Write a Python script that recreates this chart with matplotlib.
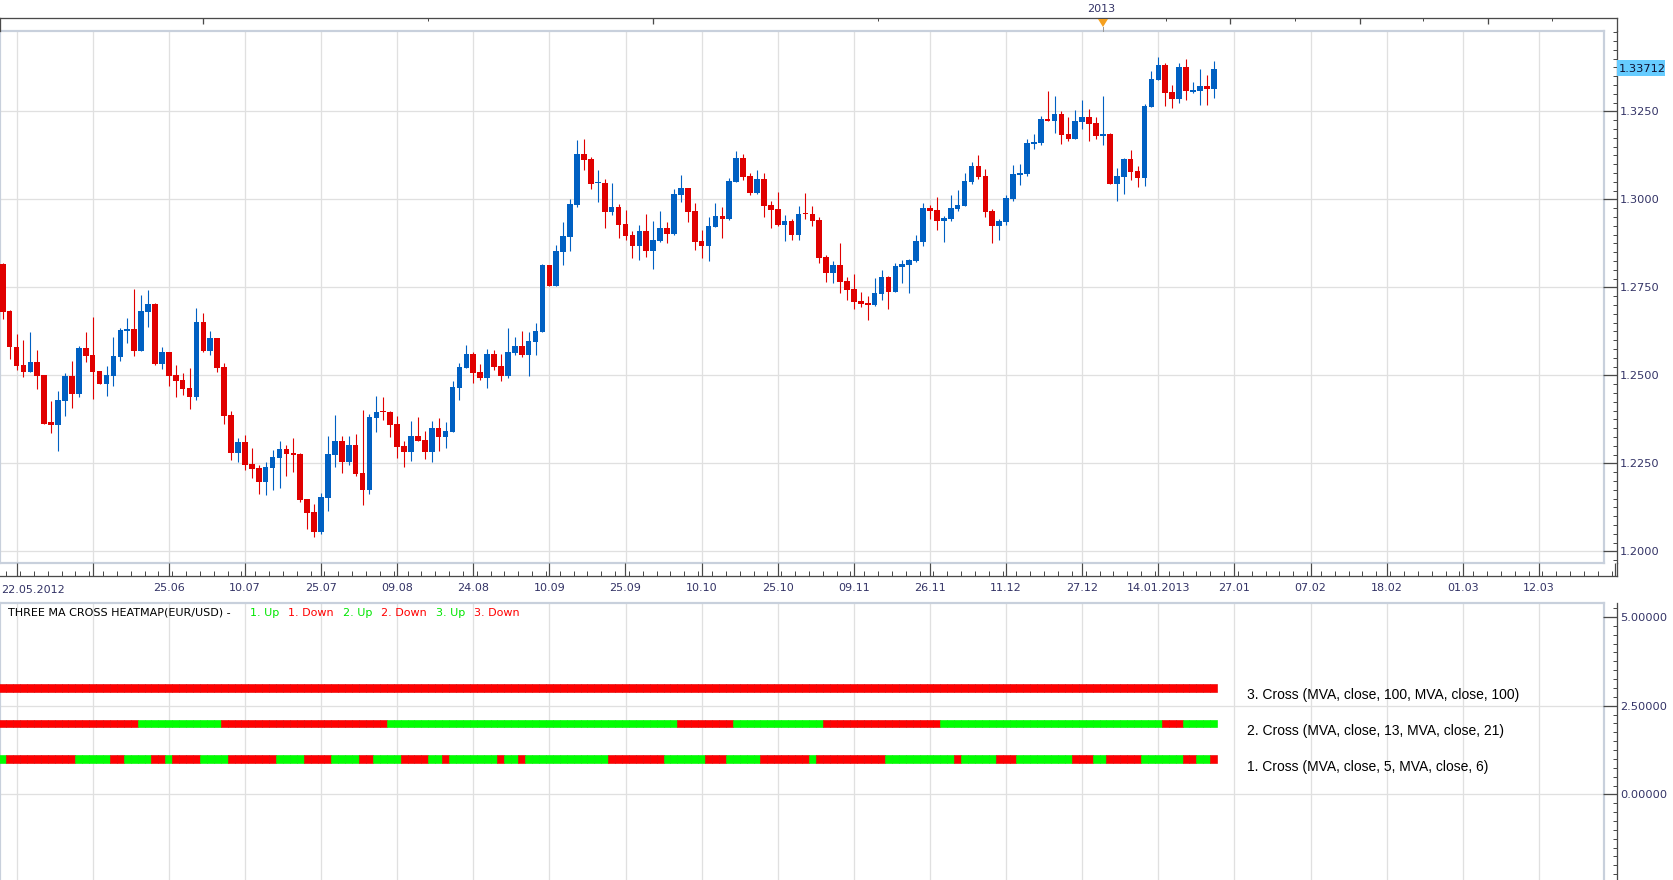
import numpy as np
import matplotlib
matplotlib.use("Agg")
import matplotlib.pyplot as plt
from matplotlib.patches import Rectangle, Polygon
from matplotlib.lines import Line2D
from matplotlib.ticker import FixedLocator, FuncFormatter, NullFormatter

plt.rcParams['font.family'] = ['DejaVu Sans']

W, H = 1674, 880

# ---------------- data (EUR/USD daily, 22.05.2012 - 24.01.2013) ----------------
opens = [1.2816, 1.2683, 1.2580, 1.2529, 1.2510, 1.2538, 1.2501, 1.2366, 1.2360, 1.2428,
         1.2498, 1.2448, 1.2578, 1.2558, 1.2512, 1.2476, 1.2499, 1.2553, 1.2627, 1.2632,
         1.2570, 1.2681, 1.2703, 1.2533, 1.2566, 1.2501, 1.2487, 1.2464, 1.2439, 1.2651,
         1.2570, 1.2606, 1.2524, 1.2387, 1.2280, 1.2310, 1.2248, 1.2237, 1.2197, 1.2237,
         1.2265, 1.2291, 1.2279, 1.2276, 1.2149, 1.2112, 1.2056, 1.2151, 1.2273, 1.2313,
         1.2254, 1.2302, 1.2222, 1.2174, 1.2379, 1.2399, 1.2396, 1.2362, 1.2299, 1.2282,
         1.2328, 1.2316, 1.2282, 1.2350, 1.2325, 1.2339, 1.2464, 1.2521, 1.2560, 1.2509,
         1.2492, 1.2561, 1.2527, 1.2499, 1.2563, 1.2583, 1.2558, 1.2595, 1.2623, 1.2813,
         1.2755, 1.2850, 1.2893, 1.2984, 1.3129, 1.3114, 1.3046, 1.3046, 1.2964, 1.2978,
         1.2930, 1.2899, 1.2867, 1.2910, 1.2853, 1.2881, 1.2918, 1.2901, 1.3012, 1.3032,
         1.2967, 1.2881, 1.2867, 1.2921, 1.2953, 1.2944, 1.3049, 1.3117, 1.3066, 1.3018,
         1.3058, 1.2984, 1.2972, 1.2927, 1.2938, 1.2899, 1.2961, 1.2958, 1.2941, 1.2836,
         1.2791, 1.2813, 1.2768, 1.2745, 1.2711, 1.2705, 1.2700, 1.2731, 1.2779, 1.2737,
         1.2808, 1.2813, 1.2825, 1.2879, 1.2975, 1.2970, 1.2938, 1.2944, 1.2972, 1.2981,
         1.3049, 1.3095, 1.3066, 1.2967, 1.2924, 1.2936, 1.3001, 1.3069, 1.3072, 1.3157,
         1.3160, 1.3228, 1.3223, 1.3242, 1.3186, 1.3171, 1.3220, 1.3234, 1.3217, 1.3180,
         1.3186, 1.3044, 1.3063, 1.3115, 1.3080, 1.3061, 1.3262, 1.3339, 1.3382, 1.3305,
         1.3285, 1.3376, 1.3305, 1.3308, 1.3322, 1.3313]
highs = [1.2820, 1.2686, 1.2617, 1.2600, 1.2623, 1.2572, 1.2501, 1.2427, 1.2455, 1.2507,
         1.2541, 1.2583, 1.2623, 1.2666, 1.2512, 1.2526, 1.2609, 1.2634, 1.2663, 1.2745,
         1.2728, 1.2742, 1.2705, 1.2580, 1.2566, 1.2529, 1.2507, 1.2521, 1.2691, 1.2677,
         1.2626, 1.2606, 1.2535, 1.2399, 1.2322, 1.2330, 1.2293, 1.2245, 1.2254, 1.2288,
         1.2313, 1.2302, 1.2322, 1.2279, 1.2149, 1.2134, 1.2166, 1.2328, 1.2387, 1.2328,
         1.2328, 1.2333, 1.2401, 1.2390, 1.2441, 1.2438, 1.2399, 1.2384, 1.2313, 1.2370,
         1.2381, 1.2342, 1.2370, 1.2379, 1.2367, 1.2484, 1.2535, 1.2586, 1.2566, 1.2532,
         1.2575, 1.2572, 1.2561, 1.2634, 1.2609, 1.2626, 1.2623, 1.2649, 1.2816, 1.2813,
         1.2870, 1.2936, 1.3001, 1.3169, 1.3171, 1.3120, 1.3083, 1.3058, 1.3046, 1.2987,
         1.2970, 1.2910, 1.2927, 1.2958, 1.2938, 1.2967, 1.2935, 1.3029, 1.3069, 1.3032,
         1.2990, 1.2913, 1.2950, 1.2990, 1.2978, 1.3061, 1.3137, 1.3129, 1.3075, 1.3083,
         1.3075, 1.2995, 1.3021, 1.2955, 1.2944, 1.2981, 1.3018, 1.2981, 1.2950, 1.2842,
         1.2825, 1.2876, 1.2779, 1.2788, 1.2737, 1.2725, 1.2776, 1.2799, 1.2782, 1.2819,
         1.2828, 1.2830, 1.2899, 1.2990, 1.2984, 1.3007, 1.2953, 1.3012, 1.3026, 1.3075,
         1.3106, 1.3126, 1.3086, 1.2972, 1.2944, 1.3012, 1.3097, 1.3100, 1.3171, 1.3186,
         1.3237, 1.3308, 1.3294, 1.3251, 1.3234, 1.3254, 1.3282, 1.3257, 1.3234, 1.3294,
         1.3188, 1.3089, 1.3117, 1.3140, 1.3095, 1.3271, 1.3365, 1.3404, 1.3387, 1.3325,
         1.3387, 1.3399, 1.3333, 1.3370, 1.3353, 1.3393]
lows = [1.2660, 1.2547, 1.2516, 1.2496, 1.2510, 1.2462, 1.2363, 1.2337, 1.2286, 1.2383,
        1.2408, 1.2439, 1.2539, 1.2434, 1.2476, 1.2442, 1.2471, 1.2542, 1.2593, 1.2556,
        1.2570, 1.2638, 1.2530, 1.2519, 1.2471, 1.2439, 1.2445, 1.2405, 1.2431, 1.2567,
        1.2559, 1.2508, 1.2363, 1.2258, 1.2255, 1.2231, 1.2208, 1.2163, 1.2160, 1.2174,
        1.2180, 1.2214, 1.2225, 1.2140, 1.2063, 1.2040, 1.2050, 1.2115, 1.2239, 1.2222,
        1.2245, 1.2214, 1.2132, 1.2163, 1.2339, 1.2373, 1.2325, 1.2265, 1.2239, 1.2257,
        1.2313, 1.2262, 1.2254, 1.2285, 1.2293, 1.2339, 1.2430, 1.2521, 1.2478, 1.2487,
        1.2464, 1.2515, 1.2485, 1.2493, 1.2558, 1.2552, 1.2499, 1.2558, 1.2623, 1.2755,
        1.2755, 1.2813, 1.2853, 1.2978, 1.3083, 1.3029, 1.2992, 1.2918, 1.2955, 1.2890,
        1.2884, 1.2833, 1.2828, 1.2836, 1.2802, 1.2879, 1.2876, 1.2899, 1.2992, 1.2935,
        1.2856, 1.2833, 1.2825, 1.2921, 1.2890, 1.2941, 1.3049, 1.3055, 1.3012, 1.3015,
        1.2950, 1.2918, 1.2924, 1.2882, 1.2884, 1.2884, 1.2944, 1.2924, 1.2819, 1.2765,
        1.2762, 1.2734, 1.2714, 1.2688, 1.2694, 1.2657, 1.2697, 1.2714, 1.2688, 1.2737,
        1.2762, 1.2734, 1.2822, 1.2867, 1.2944, 1.2913, 1.2879, 1.2938, 1.2967, 1.2981,
        1.3043, 1.3058, 1.2950, 1.2876, 1.2884, 1.2927, 1.2995, 1.3041, 1.3066, 1.3143,
        1.3154, 1.3223, 1.3188, 1.3157, 1.3166, 1.3171, 1.3200, 1.3166, 1.3171, 1.3154,
        1.3044, 1.2995, 1.3015, 1.3055, 1.3035, 1.3038, 1.3262, 1.3339, 1.3265, 1.3259,
        1.3274, 1.3282, 1.3302, 1.3268, 1.3268, 1.3288]
closes = [1.2681, 1.2579, 1.2527, 1.2510, 1.2538, 1.2499, 1.2363, 1.2360, 1.2430, 1.2498,
          1.2448, 1.2578, 1.2556, 1.2510, 1.2476, 1.2501, 1.2555, 1.2629, 1.2632, 1.2570,
          1.2683, 1.2703, 1.2533, 1.2566, 1.2499, 1.2485, 1.2462, 1.2439, 1.2651, 1.2570,
          1.2606, 1.2522, 1.2385, 1.2280, 1.2311, 1.2246, 1.2234, 1.2197, 1.2239, 1.2268,
          1.2291, 1.2276, 1.2273, 1.2146, 1.2109, 1.2056, 1.2154, 1.2276, 1.2313, 1.2254,
          1.2302, 1.2220, 1.2174, 1.2381, 1.2396, 1.2397, 1.2359, 1.2296, 1.2282, 1.2328,
          1.2313, 1.2282, 1.2350, 1.2325, 1.2342, 1.2467, 1.2524, 1.2560, 1.2506, 1.2492,
          1.2560, 1.2525, 1.2499, 1.2566, 1.2583, 1.2558, 1.2597, 1.2626, 1.2813, 1.2755,
          1.2853, 1.2896, 1.2987, 1.3129, 1.3112, 1.3044, 1.3049, 1.2964, 1.2978, 1.2927,
          1.2896, 1.2867, 1.2910, 1.2853, 1.2884, 1.2918, 1.2901, 1.3015, 1.3032, 1.2964,
          1.2879, 1.2867, 1.2924, 1.2953, 1.2944, 1.3052, 1.3117, 1.3063, 1.3018, 1.3058,
          1.2981, 1.2970, 1.2927, 1.2938, 1.2899, 1.2958, 1.2958, 1.2938, 1.2833, 1.2791,
          1.2813, 1.2765, 1.2742, 1.2708, 1.2703, 1.2700, 1.2734, 1.2779, 1.2737, 1.2810,
          1.2816, 1.2827, 1.2882, 1.2975, 1.2967, 1.2938, 1.2947, 1.2975, 1.2984, 1.3052,
          1.3095, 1.3063, 1.2964, 1.2924, 1.2938, 1.3004, 1.3072, 1.3075, 1.3160, 1.3163,
          1.3228, 1.3223, 1.3242, 1.3183, 1.3171, 1.3223, 1.3234, 1.3214, 1.3180, 1.3186,
          1.3044, 1.3066, 1.3115, 1.3078, 1.3061, 1.3265, 1.3342, 1.3382, 1.3302, 1.3285,
          1.3376, 1.3308, 1.3311, 1.3322, 1.3313, 1.33712]
last_price_text = "1.33712"

# heatmap states as runs (count, 'U'=Up / 'D'=Down)
row1_runs = [(1, 'U'), (10, 'D'), (5, 'U'), (2, 'D'), (4, 'U'), (2, 'D'), (1, 'U'), (4, 'D'),
             (4, 'U'), (7, 'D'), (4, 'U'), (4, 'D'), (4, 'U'), (2, 'D'), (4, 'U'), (4, 'D'),
             (2, 'U'), (1, 'D'), (7, 'U'), (1, 'D'), (2, 'U'), (1, 'D'), (12, 'U'), (8, 'D'),
             (6, 'U'), (3, 'D'), (5, 'U'), (7, 'D'), (1, 'U'), (10, 'D'), (10, 'U'), (1, 'D'),
             (5, 'U'), (3, 'D'), (8, 'U'), (3, 'D'), (2, 'U'), (5, 'D'), (6, 'U'), (2, 'D'),
             (2, 'U'), (1, 'D')]
row2_runs = [(20, 'D'), (12, 'U'), (24, 'D'), (42, 'U'), (8, 'D'), (13, 'U'), (17, 'D'),
             (32, 'U'), (3, 'D'), (5, 'U')]
row3_runs = [(176, 'D')]
row_names = ["1. Cross (MVA, close, 5, MVA, close, 6)",
             "2. Cross (MVA, close, 13, MVA, close, 21)",
             "3. Cross (MVA, close, 100, MVA, close, 100)"]
row_levels = [1.0, 2.0, 3.0]

price_ticks = [1.2000, 1.2250, 1.2500, 1.2750, 1.3000, 1.3250]
panel_ticks = [0.0, 2.5, 5.0]
date_labels = ['25.06', '10.07', '25.07', '09.08', '24.08', '10.09', '25.09', '10.10',
               '25.10', '09.11', '26.11', '11.12', '27.12', '14.01.2013', '27.01', '07.02',
               '18.02', '01.03', '12.03']
first_date_label = '22.05.2012'
year_label = '2013'
panel_title = 'THREE MA CROSS HEATMAP(EUR/USD) - '
legend_items = [('1. Up', 'U'), ('1. Down', 'D'), ('2. Up', 'U'), ('2. Down', 'D'),
                ('3. Up', 'U'), ('3. Down', 'D')]

# ---------------- geometry helpers (pixel layout) ----------------
X0, DX = 2.7, 6.92          # bar index -> pixel
P0, PS = 1.35662, 3520.0    # price -> pixel
VY0, VS = 705.7, 35.48      # panel value -> pixel
PT = 0.72                   # points per pixel


def bx(px):
    return (px - X0) / DX


def py(ypx):
    return P0 - ypx / PS


def vy(ypx):
    return 2.5 - (ypx - VY0) / VS


def box(x0, y0, x1, y1):
    return [x0 / W, 1 - y1 / H, (x1 - x0) / W, (y1 - y0) / H]


def fpt(x, y):
    return (x / W, 1 - y / H)


RED, BLUE = '#e00000', '#0060c2'
GRID = '#e0e0e0'
BORDER = '#c8d0dc'
AXC = '#4a4a4a'
LBL = '#333366'

n = len(closes)
idx = np.arange(n)
o = np.array(opens); h = np.array(highs); l = np.array(lows); c = np.array(closes)

fig = plt.figure(figsize=(W / 100, H / 100), dpi=100)
fig.patch.set_facecolor('white')

# ---------------- main price panel ----------------
ax = fig.add_axes(box(0, 31, 1604, 563))
ax.set_xlim(bx(0), bx(1604))
ax.set_ylim(py(563), py(31))
ax.set_xticks([]); ax.set_yticks([])
for s in ax.spines.values():
    s.set_color(BORDER); s.set_linewidth(2.2 * PT)
grid_bars = np.arange(2, 232, 11)
ax.vlines(grid_bars, py(563), py(31), color=GRID, lw=1.3 * PT, zorder=0)
ax.hlines(price_ticks, bx(0), bx(1604), color=GRID, lw=1.3 * PT, zorder=0)

up = c >= o
cols = np.where(up, BLUE, RED)
ax.vlines(idx, l, h, colors=cols, lw=1.1 * PT, zorder=2)
body_bot = np.minimum(o, c)
body_h = np.maximum(np.abs(c - o), 0.0003)
ax.bar(idx, body_h, bottom=body_bot, width=0.82, color=cols, linewidth=0, zorder=3)

# right price axis
axr = fig.add_axes(box(1604, 31, 1617, 563))
axr.set_ylim(py(563), py(31)); axr.set_xlim(0, 1)
axr.patch.set_visible(False)
for k in ['left', 'top', 'bottom']:
    axr.spines[k].set_visible(False)
axr.spines['right'].set_color(AXC); axr.spines['right'].set_linewidth(1.3 * PT)
axr.set_xticks([])
axr.yaxis.tick_right()
axr.yaxis.set_major_locator(FixedLocator(price_ticks))
axr.yaxis.set_minor_locator(FixedLocator(list(np.arange(1.1975, 1.3476, 0.0025))))
axr.yaxis.set_major_formatter(FuncFormatter(lambda v, p: f'{v:.4f}'))
axr.yaxis.set_minor_formatter(NullFormatter())
axr.tick_params(axis='y', which='major', direction='in', length=14 * PT, width=1.3 * PT,
                color=AXC, labelsize=8.2, labelcolor=LBL, pad=3 * PT,
                right=True, left=False, labelright=True, labelleft=False)
axr.tick_params(axis='y', which='minor', direction='in', length=4 * PT, width=1.0 * PT,
                color=AXC, right=True, left=False)

# last price box
fig.patches.append(Rectangle(fpt(1617, 76), 48.5 / W, 16 / H, transform=fig.transFigure,
                             facecolor='#66ccff', edgecolor='none', zorder=5))
fig.text(*fpt(1618.5, 68.5), last_price_text, ha='left', va='center', fontsize=8.2,
         color='#101030', zorder=6)

# ---------------- x strip (date axis) ----------------
axs = fig.add_axes(box(0, 563, 1617, 576))
axs.set_xlim(bx(0), bx(1617)); axs.set_ylim(0, 1)
axs.patch.set_visible(False)
for k in ['left', 'top']:
    axs.spines[k].set_visible(False)
for k in ['bottom', 'right']:
    axs.spines[k].set_color(AXC); axs.spines[k].set_linewidth(1.3 * PT)
axs.set_yticks([])
major_x = list(np.arange(2, 234, 11))
lab_map = {24 + 11 * k: t for k, t in enumerate(date_labels)}
axs.xaxis.set_major_locator(FixedLocator(major_x))
axs.xaxis.set_major_formatter(FuncFormatter(lambda v, p: lab_map.get(int(round(v)), '')))
axs.xaxis.set_minor_locator(FixedLocator([b + 0.5 for b in range(0, 233, 2)]))
axs.xaxis.set_minor_formatter(NullFormatter())
axs.tick_params(axis='x', which='major', direction='in', length=13 * PT, width=1.2 * PT,
                color=AXC, labelsize=8, labelcolor=LBL, pad=7 * PT)
axs.tick_params(axis='x', which='minor', direction='in', length=5 * PT, width=1.0 * PT,
                color=AXC)
fig.text(*fpt(1.5, 590), first_date_label, ha='left', va='center', fontsize=8, color=LBL)

# ---------------- top strip ----------------
axt = fig.add_axes(box(0, 18, 1617, 31))
axt.set_xlim(bx(0), bx(1617)); axt.set_ylim(0, 1)
axt.patch.set_visible(False)
axt.spines['bottom'].set_visible(False)
for k in ['top', 'left', 'right']:
    axt.spines[k].set_color(AXC); axt.spines[k].set_linewidth(1.3 * PT)
axt.set_yticks([])
axt.xaxis.tick_top()
axt.xaxis.set_major_locator(FixedLocator([29, 94, 159, 177.3, 196.1, 214.7]))
axt.xaxis.set_minor_locator(FixedLocator([61.5, 126.5, 168.1, 186.7, 205.3, 223.9]))
axt.xaxis.set_major_formatter(NullFormatter())
axt.xaxis.set_minor_formatter(NullFormatter())
axt.tick_params(axis='x', which='major', direction='in', length=6 * PT, width=1.3 * PT,
                color=AXC, top=True, bottom=False)
axt.tick_params(axis='x', which='minor', direction='in', length=3 * PT, width=1.0 * PT,
                color=AXC, top=True, bottom=False)
fig.text(*fpt(1101, 8.5), year_label, ha='center', va='center', fontsize=8, color=LBL)
mx = 2.7 + 6.92 * 159
fig.patches.append(Polygon([fpt(mx - 5, 19), fpt(mx + 5, 19), fpt(mx, 27)], closed=True,
                           transform=fig.transFigure, facecolor='#f5a020',
                           edgecolor='none', zorder=5))
fig.add_artist(Line2D([mx / W, mx / W], [1 - 27 / H, 1 - 31 / H], color='#9a9a9a',
                      lw=1 * PT, transform=fig.transFigure))

# ---------------- lower heatmap panel ----------------
axl = fig.add_axes(box(0, 603, 1604, 880))
axl.set_xlim(bx(0), bx(1604))
axl.set_ylim(vy(880), vy(603))
axl.set_xticks([]); axl.set_yticks([])
for k, s in axl.spines.items():
    s.set_color(BORDER); s.set_linewidth(2.2 * PT)
axl.spines['bottom'].set_visible(False)
axl.vlines(grid_bars, vy(880), vy(603), color=GRID, lw=1.3 * PT, zorder=0)
axl.hlines([0.0, 2.5], bx(0), bx(1604), color=GRID, lw=1.3 * PT, zorder=0)


def expand(runs):
    out = []
    for cnt, st in runs:
        out += [st] * cnt
    return out


for yv, runs in zip(row_levels, [row1_runs, row2_runs, row3_runs]):
    states = expand(runs)
    fc = ['#00ff00' if s == 'U' else '#ff0000' for s in states]
    ec = ['#00f000' if s == 'U' else '#e60000' for s in states]
    axl.bar(idx, 0.217, bottom=yv - 0.1085, width=1.0, color=fc, edgecolor=ec,
            linewidth=0.6 * PT, zorder=3)

# right panel axis
axlr = fig.add_axes(box(1604, 603, 1617, 880))
axlr.set_ylim(vy(880), vy(603)); axlr.set_xlim(0, 1)
axlr.patch.set_visible(False)
for k in ['left', 'top', 'bottom']:
    axlr.spines[k].set_visible(False)
axlr.spines['right'].set_color(AXC); axlr.spines['right'].set_linewidth(1.3 * PT)
axlr.set_xticks([])
axlr.yaxis.tick_right()
axlr.yaxis.set_major_locator(FixedLocator(panel_ticks))
axlr.yaxis.set_minor_locator(FixedLocator(list(np.arange(-2.25, 5.5, 0.25))))
axlr.yaxis.set_major_formatter(FuncFormatter(lambda v, p: f'{v:.5f}'))
axlr.yaxis.set_minor_formatter(NullFormatter())
axlr.tick_params(axis='y', which='major', direction='in', length=14 * PT, width=1.3 * PT,
                 color=AXC, labelsize=8.2, labelcolor=LBL, pad=3 * PT,
                 right=True, left=False, labelright=True, labelleft=False)
axlr.tick_params(axis='y', which='minor', direction='in', length=4 * PT, width=1.0 * PT,
                 color=AXC, right=True, left=False)

# panel title + legend
fig.text(*fpt(8, 612.5), panel_title, ha='left', va='center', fontsize=8.0, color='black')
leg_x = [250, 288, 343, 381, 436.5, 474]
for (txt, st), xx in zip(legend_items, leg_x):
    fig.text(*fpt(xx, 612.5), txt, ha='left', va='center', fontsize=8.0,
             color='#00e600' if st == 'U' else '#ff0000')

# row labels
label_y = {1.0: 766.5, 2.0: 730.5, 3.0: 695.5}
for name, yv in zip(row_names, row_levels):
    fig.text(*fpt(1247, label_y[yv]), name, ha='left', va='center', fontsize=10,
             color='black', family=['Liberation Sans'])

fig.savefig('out.png', dpi=100, facecolor='white')
